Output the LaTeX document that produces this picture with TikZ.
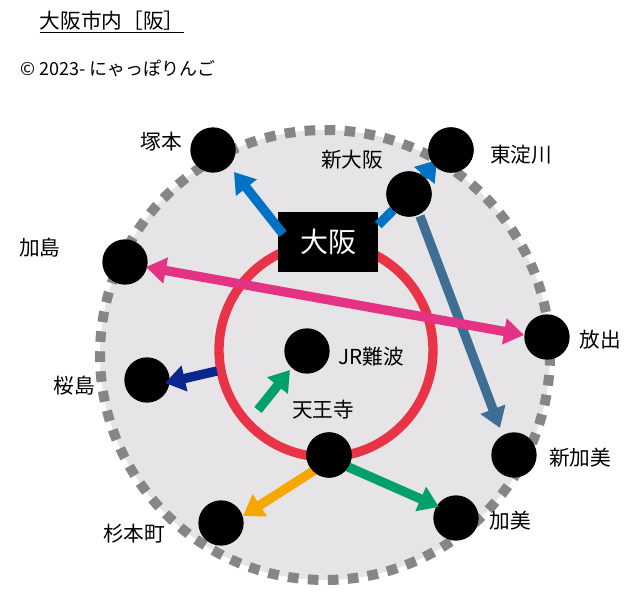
\documentclass[tikz,border=0pt]{standalone}
\usepackage{fontspec}
\setmainfont{Noto Sans CJK JP}
\usetikzlibrary{arrows.meta}
\definecolor{bg}{RGB}{230,228,230}
\definecolor{ring}{RGB}{233,52,72}
\definecolor{bl}{RGB}{0,114,198}
\definecolor{sb}{RGB}{62,110,148}
\definecolor{pk}{RGB}{228,50,132}
\definecolor{nv}{RGB}{10,40,140}
\definecolor{gr}{RGB}{0,160,106}
\definecolor{og}{RGB}{246,168,0}
\begin{document}
\begin{tikzpicture}[x=0.75pt,y=-0.75pt,
  st/.style={circle,fill=black,minimum size=34pt,inner sep=0pt},
  lb/.style={font=\fontsize{15.5}{18}\selectfont},
  ar/.style={line width=7pt,-{Triangle[length=15pt,width=19pt]}},
  ln/.style={line width=7pt}]
\useasboundingbox (0,0) rectangle (640,595);
\fill[white] (0,0) rectangle (640,595);
\node[anchor=west,font=\fontsize{15.5}{18}\selectfont] (title) at (35,22) {\underline{大阪市内［阪］}};
\node[anchor=west,font=\fontsize{13.5}{16}\selectfont] (copy) at (16,68) {© 2023- にゃっぽりんご};
\draw[fill=bg,draw=gray!95,line width=7.5pt,dash pattern=on 8pt off 7pt] (325,355) circle (225);
\draw[ring,line width=7pt] (326,350) circle (107);
\node[st] (tsu) at (213,150) {};
\node[st] (hig) at (451,150) {};
\node[st] (shi) at (409,194) {};
\node[st] (kas) at (125,262) {};
\node[st] (han) at (547,337) {};
\node[st] (nam) at (307,351) {};
\node[st] (sak) at (147,380) {};
\node[st] (ten) at (329,455) {};
\node[st] (skm) at (514,455) {};
\node[st] (sug) at (221,523) {};
\node[st] (kam) at (456,518) {};
\node[fill=black,text=white,minimum width=75pt,minimum height=45pt,font=\fontsize{21}{24}\selectfont] (osk) at (328,242) {大阪};
\coordinate (c1) at (283,234);
\draw[ar,bl] (c1) -- (234,172);
\draw[ln,bl] (osk.east |- 0,225) -- (shi);
\draw[ar,bl] (shi) -- (437,160);
\draw[ar,sb] (420,216) -- (500,428);
\draw[line width=7pt,pk,{Triangle[length=15pt,width=19pt]}-{Triangle[length=15pt,width=19pt]}] (146,267) -- (524,335);
\draw[ar,nv] (217,371) -- (165,383);
\draw[ar,gr] (258,410) -- (290,370);
\draw[ar,og] (318,468) -- (243,516);
\draw[ar,gr] (346,466) -- (439,507);
\node[st] at (shi) {};
\node[st] at (ten) {};
\node[st] at (hig) {};
\node[lb] (l1) at (161,142) {塚本};
\node[lb] (l2) at (521,155) {東淀川};
\node[lb] (l3) at (352,160) {新大阪};
\node[lb] (l4) at (40,248) {加島};
\node[lb] (l5) at (600,340) {放出};
\node[lb] (l6) at (371,357) {JR難波};
\node[lb] (l7) at (74,386) {桜島};
\node[lb] (l8) at (323,410) {天王寺};
\node[lb] (l9) at (580,458) {新加美};
\node[lb] (l10) at (134,534) {杉本町};
\node[lb] (l11) at (510,521) {加美};
\end{tikzpicture}
\end{document}
